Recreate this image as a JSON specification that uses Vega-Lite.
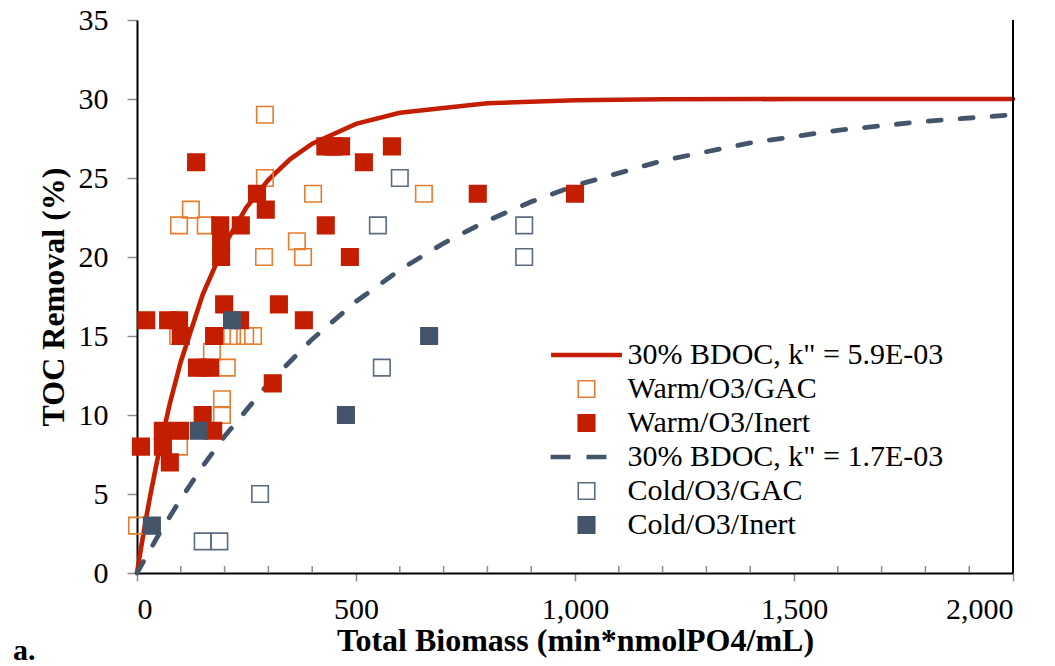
{
  "$schema": "https://vega.github.io/schema/vega-lite/v6.json",
  "width": 876,
  "height": 553,
  "autosize": "none",
  "padding": {"left": 137, "top": 20, "right": 42, "bottom": 93},
  "background": "white",
  "title": {"text": "a.", "orient": "bottom", "anchor": "start", "frame": "group", "dx": -124, "offset": -20, "font": "Liberation Serif", "fontSize": 30, "fontWeight": "bold", "color": "black"},
  "datasets": {
    "curves": [
      {"s": "30% BDOC, k\" = 5.9E-03", "x": 0, "y": 0},
      {"s": "30% BDOC, k\" = 5.9E-03", "x": 10, "y": 1.72},
      {"s": "30% BDOC, k\" = 5.9E-03", "x": 20, "y": 3.34},
      {"s": "30% BDOC, k\" = 5.9E-03", "x": 30, "y": 4.87},
      {"s": "30% BDOC, k\" = 5.9E-03", "x": 50, "y": 7.66},
      {"s": "30% BDOC, k\" = 5.9E-03", "x": 75, "y": 10.73},
      {"s": "30% BDOC, k\" = 5.9E-03", "x": 100, "y": 13.37},
      {"s": "30% BDOC, k\" = 5.9E-03", "x": 150, "y": 17.62},
      {"s": "30% BDOC, k\" = 5.9E-03", "x": 200, "y": 20.78},
      {"s": "30% BDOC, k\" = 5.9E-03", "x": 250, "y": 23.14},
      {"s": "30% BDOC, k\" = 5.9E-03", "x": 300, "y": 24.89},
      {"s": "30% BDOC, k\" = 5.9E-03", "x": 350, "y": 26.2},
      {"s": "30% BDOC, k\" = 5.9E-03", "x": 400, "y": 27.17},
      {"s": "30% BDOC, k\" = 5.9E-03", "x": 500, "y": 28.43},
      {"s": "30% BDOC, k\" = 5.9E-03", "x": 600, "y": 29.13},
      {"s": "30% BDOC, k\" = 5.9E-03", "x": 800, "y": 29.73},
      {"s": "30% BDOC, k\" = 5.9E-03", "x": 1000, "y": 29.92},
      {"s": "30% BDOC, k\" = 5.9E-03", "x": 1200, "y": 29.98},
      {"s": "30% BDOC, k\" = 5.9E-03", "x": 1500, "y": 30.0},
      {"s": "30% BDOC, k\" = 5.9E-03", "x": 2000, "y": 30.0},
      {"s": "30% BDOC, k\" = 1.7E-03", "x": 0, "y": 0},
      {"s": "30% BDOC, k\" = 1.7E-03", "x": 50, "y": 2.45},
      {"s": "30% BDOC, k\" = 1.7E-03", "x": 100, "y": 4.69},
      {"s": "30% BDOC, k\" = 1.7E-03", "x": 150, "y": 6.75},
      {"s": "30% BDOC, k\" = 1.7E-03", "x": 200, "y": 8.65},
      {"s": "30% BDOC, k\" = 1.7E-03", "x": 300, "y": 11.99},
      {"s": "30% BDOC, k\" = 1.7E-03", "x": 400, "y": 14.8},
      {"s": "30% BDOC, k\" = 1.7E-03", "x": 500, "y": 17.18},
      {"s": "30% BDOC, k\" = 1.7E-03", "x": 600, "y": 19.18},
      {"s": "30% BDOC, k\" = 1.7E-03", "x": 700, "y": 20.87},
      {"s": "30% BDOC, k\" = 1.7E-03", "x": 800, "y": 22.3},
      {"s": "30% BDOC, k\" = 1.7E-03", "x": 900, "y": 23.5},
      {"s": "30% BDOC, k\" = 1.7E-03", "x": 1000, "y": 24.52},
      {"s": "30% BDOC, k\" = 1.7E-03", "x": 1200, "y": 26.1},
      {"s": "30% BDOC, k\" = 1.7E-03", "x": 1400, "y": 27.22},
      {"s": "30% BDOC, k\" = 1.7E-03", "x": 1600, "y": 28.02},
      {"s": "30% BDOC, k\" = 1.7E-03", "x": 1800, "y": 28.59},
      {"s": "30% BDOC, k\" = 1.7E-03", "x": 2000, "y": 29.0}
    ],
    "points": [
      {"s": "Warm/O3/GAC", "x": 0, "y": 3},
      {"s": "Warm/O3/GAC", "x": 292, "y": 29},
      {"s": "Warm/O3/GAC", "x": 292, "y": 25},
      {"s": "Warm/O3/GAC", "x": 123, "y": 23},
      {"s": "Warm/O3/GAC", "x": 96, "y": 22},
      {"s": "Warm/O3/GAC", "x": 157, "y": 22},
      {"s": "Warm/O3/GAC", "x": 402, "y": 24},
      {"s": "Warm/O3/GAC", "x": 290, "y": 20},
      {"s": "Warm/O3/GAC", "x": 365, "y": 21},
      {"s": "Warm/O3/GAC", "x": 379, "y": 20},
      {"s": "Warm/O3/GAC", "x": 448, "y": 27},
      {"s": "Warm/O3/GAC", "x": 655, "y": 24},
      {"s": "Warm/O3/GAC", "x": 94, "y": 15},
      {"s": "Warm/O3/GAC", "x": 194, "y": 15},
      {"s": "Warm/O3/GAC", "x": 217, "y": 15},
      {"s": "Warm/O3/GAC", "x": 247, "y": 15},
      {"s": "Warm/O3/GAC", "x": 265, "y": 15},
      {"s": "Warm/O3/GAC", "x": 171, "y": 14},
      {"s": "Warm/O3/GAC", "x": 155, "y": 13},
      {"s": "Warm/O3/GAC", "x": 205, "y": 13},
      {"s": "Warm/O3/GAC", "x": 194, "y": 11},
      {"s": "Warm/O3/GAC", "x": 194, "y": 10},
      {"s": "Warm/O3/GAC", "x": 96, "y": 8},
      {"s": "Warm/O3/Inert", "x": 135, "y": 26},
      {"s": "Warm/O3/Inert", "x": 274, "y": 24},
      {"s": "Warm/O3/Inert", "x": 294, "y": 23},
      {"s": "Warm/O3/Inert", "x": 190, "y": 22},
      {"s": "Warm/O3/Inert", "x": 237, "y": 22},
      {"s": "Warm/O3/Inert", "x": 192, "y": 21},
      {"s": "Warm/O3/Inert", "x": 192, "y": 20},
      {"s": "Warm/O3/Inert", "x": 430, "y": 27},
      {"s": "Warm/O3/Inert", "x": 448, "y": 27},
      {"s": "Warm/O3/Inert", "x": 466, "y": 27},
      {"s": "Warm/O3/Inert", "x": 582, "y": 27},
      {"s": "Warm/O3/Inert", "x": 518, "y": 26},
      {"s": "Warm/O3/Inert", "x": 431, "y": 22},
      {"s": "Warm/O3/Inert", "x": 486, "y": 20},
      {"s": "Warm/O3/Inert", "x": 778, "y": 24},
      {"s": "Warm/O3/Inert", "x": 1000, "y": 24},
      {"s": "Warm/O3/Inert", "x": 199, "y": 17},
      {"s": "Warm/O3/Inert", "x": 324, "y": 17},
      {"s": "Warm/O3/Inert", "x": 21, "y": 16},
      {"s": "Warm/O3/Inert", "x": 71, "y": 16},
      {"s": "Warm/O3/Inert", "x": 96, "y": 16},
      {"s": "Warm/O3/Inert", "x": 100, "y": 15},
      {"s": "Warm/O3/Inert", "x": 235, "y": 16},
      {"s": "Warm/O3/Inert", "x": 381, "y": 16},
      {"s": "Warm/O3/Inert", "x": 176, "y": 15},
      {"s": "Warm/O3/Inert", "x": 137, "y": 13},
      {"s": "Warm/O3/Inert", "x": 167, "y": 13},
      {"s": "Warm/O3/Inert", "x": 310, "y": 12},
      {"s": "Warm/O3/Inert", "x": 150, "y": 10},
      {"s": "Warm/O3/Inert", "x": 174, "y": 9},
      {"s": "Warm/O3/Inert", "x": 59, "y": 9},
      {"s": "Warm/O3/Inert", "x": 98, "y": 9},
      {"s": "Warm/O3/Inert", "x": 9, "y": 8},
      {"s": "Warm/O3/Inert", "x": 59, "y": 8},
      {"s": "Warm/O3/Inert", "x": 75, "y": 7},
      {"s": "Cold/O3/GAC", "x": 600, "y": 25},
      {"s": "Cold/O3/GAC", "x": 550, "y": 22},
      {"s": "Cold/O3/GAC", "x": 884, "y": 22},
      {"s": "Cold/O3/GAC", "x": 884, "y": 20},
      {"s": "Cold/O3/GAC", "x": 559, "y": 13},
      {"s": "Cold/O3/GAC", "x": 281, "y": 5},
      {"s": "Cold/O3/GAC", "x": 150, "y": 2},
      {"s": "Cold/O3/GAC", "x": 188, "y": 2},
      {"s": "Cold/O3/Inert", "x": 217, "y": 16},
      {"s": "Cold/O3/Inert", "x": 141, "y": 9},
      {"s": "Cold/O3/Inert", "x": 34, "y": 3},
      {"s": "Cold/O3/Inert", "x": 477, "y": 10},
      {"s": "Cold/O3/Inert", "x": 667, "y": 15}
    ],
    "minor": [
      {"x": 100}, {"x": 200}, {"x": 300}, {"x": 400}, {"x": 600}, {"x": 700}, {"x": 800}, {"x": 900},
      {"x": 1100}, {"x": 1200}, {"x": 1300}, {"x": 1400}, {"x": 1600}, {"x": 1700}, {"x": 1800}, {"x": 1900}
    ]
  },
  "layer": [
    {
      "data": {"name": "curves"},
      "transform": [{"filter": {"field": "s", "equal": "30% BDOC, k\" = 5.9E-03"}}],
      "mark": {"type": "line", "strokeCap": "round", "strokeWidth": 4.6, "clip": false},
      "encoding": {
        "x": {"field": "x", "type": "quantitative", "scale": {"domain": [0, 2000], "nice": false},
          "axis": {"values": [0, 500, 1000, 1500, 2000], "format": ",.0f", "title": "Total Biomass (min*nmolPO4/mL)", "grid": false, "tickSize": 8, "tickColor": "#8c8c8c", "tickWidth": 1.5, "domainColor": "black", "domainWidth": 2, "labelPadding": 13, "titlePadding": 1}},
        "y": {"field": "y", "type": "quantitative", "scale": {"domain": [0, 35], "nice": false},
          "axis": {"values": [0, 5, 10, 15, 20, 25, 30, 35], "format": ".0f", "title": "TOC Removal (%)", "grid": false, "tickSize": 10, "tickColor": "#8c8c8c", "tickWidth": 1.5, "domainColor": "black", "domainWidth": 2, "labelPadding": 19, "titlePadding": 8}},
        "stroke": {"field": "s", "type": "nominal", "title": null,
          "scale": {"domain": ["30% BDOC, k\" = 5.9E-03", "Warm/O3/GAC", "Warm/O3/Inert", "30% BDOC, k\" = 1.7E-03", "Cold/O3/GAC", "Cold/O3/Inert"],
                    "range": ["#C41E00", "#E57C2E", "#C41E00", "#44546A", "#5B6B80", "#44546A"]},
          "legend": {"encode": {"symbols": {"update": {"strokeWidth": {"value": 1.6}}}}}}
      }
    },
    {
      "data": {"name": "curves"},
      "transform": [{"filter": {"field": "s", "equal": "30% BDOC, k\" = 1.7E-03"}}],
      "mark": {"type": "line", "strokeCap": "round", "strokeWidth": 4.8, "strokeDash": [13, 19], "clip": false},
      "encoding": {
        "x": {"field": "x", "type": "quantitative"},
        "y": {"field": "y", "type": "quantitative"},
        "stroke": {"field": "s", "type": "nominal", "title": null,
          "legend": {"encode": {"symbols": {"update": {"strokeWidth": {"value": 1.6}}}}}}
      }
    },
    {
      "data": {"name": "points"},
      "mark": {"type": "point", "opacity": 1, "size": 272, "strokeWidth": 1.6},
      "encoding": {
        "x": {"field": "x", "type": "quantitative"},
        "y": {"field": "y", "type": "quantitative"},
        "stroke": {"field": "s", "type": "nominal", "title": null,
          "legend": {"encode": {"symbols": {"update": {"strokeWidth": {"value": 1.6}}}}}},
        "fill": {"field": "s", "type": "nominal", "title": null,
          "scale": {"domain": ["30% BDOC, k\" = 5.9E-03", "Warm/O3/GAC", "Warm/O3/Inert", "30% BDOC, k\" = 1.7E-03", "Cold/O3/GAC", "Cold/O3/Inert"],
                    "range": ["#C41E00", "transparent", "#C41E00", "#44546A", "transparent", "#44546A"]},
          "legend": {"encode": {"symbols": {"update": {"strokeWidth": {"value": 1.6}}}}}},
        "shape": {"field": "s", "type": "nominal", "title": null,
          "scale": {"domain": ["30% BDOC, k\" = 5.9E-03", "Warm/O3/GAC", "Warm/O3/Inert", "30% BDOC, k\" = 1.7E-03", "Cold/O3/GAC", "Cold/O3/Inert"],
                    "range": ["M-4.2,-0.18H4.2V0.18H-4.2Z", "square", "square", "M-4.26,-0.18H-2.04V0.18H-4.26Z M0.1,-0.18H2.32V0.18H0.1Z", "square", "square"]},
          "legend": {"encode": {"symbols": {"update": {"strokeWidth": {"value": 1.6}}}}}}
      }
    },
    {
      "data": {"name": "minor"},
      "mark": {"type": "tick", "orient": "vertical", "size": 7, "thickness": 1.5, "color": "#8c8c8c", "yOffset": -3.5, "opacity": 1},
      "encoding": {
        "x": {"field": "x", "type": "quantitative"},
        "y": {"datum": 0, "type": "quantitative"}
      }
    },
    {
      "data": {"values": [{}]},
      "mark": {"type": "rule", "color": "black", "strokeWidth": 2},
      "encoding": {
        "x": {"datum": 2000, "type": "quantitative"},
        "y": {"datum": 0, "type": "quantitative"},
        "y2": {"datum": 35}
      }
    }
  ],
  "config": {
    "view": {"stroke": null},
    "axis": {"labelFont": "Liberation Serif", "labelFontSize": 30, "labelColor": "black", "titleFont": "Liberation Serif", "titleFontSize": 32, "titleFontWeight": "bold", "titleColor": "black"},
    "legend": {"orient": "none", "legendX": 434.5, "legendY": 320, "padding": 0, "labelFont": "Liberation Serif", "labelFontSize": 30, "labelColor": "black", "labelOffset": 26, "rowPadding": 4, "symbolSize": 272, "symbolStrokeWidth": 1.6, "labelLimit": 0, "symbolLimit": 0}
  }
}
